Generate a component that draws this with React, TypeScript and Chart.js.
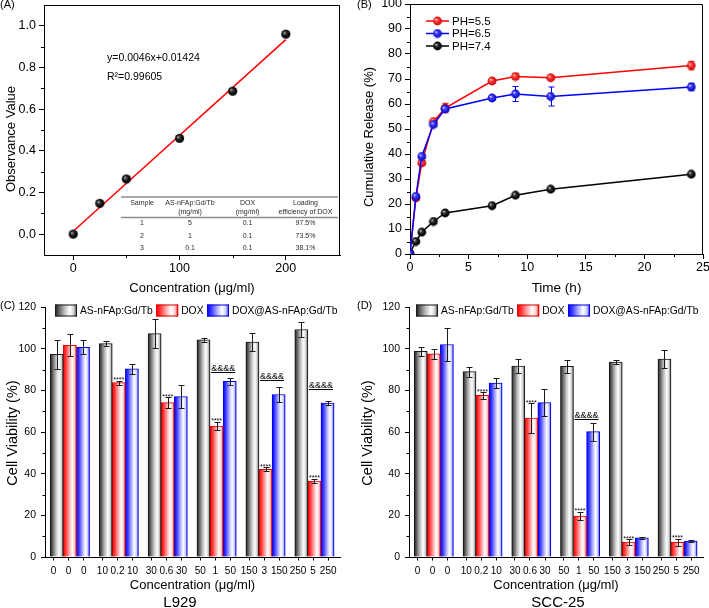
import React, { useEffect, useRef } from 'react';
import { Chart, registerables } from 'chart.js';

Chart.register(...registerables);

const FONT = "'Liberation Sans', Arial, Helvetica, sans-serif";
Chart.defaults.font.family = FONT;
Chart.defaults.color = '#000';

// ---------------- Panel A : calibration ----------------
const calibConc = [0, 25, 50, 100, 150, 200];
const calibAbs = [0.0, 0.148, 0.265, 0.46, 0.686, 0.96];
const fitLineX = [0, 200];
const fitLineY = [0.014, 0.934];
const fitEquation = 'y=0.0046x+0.01424';
const fitR2 = 'R²=0.99605';
const aXTicks = [0, 100, 200];
const aXTickLabels = ['0', '100', '200'];
const aXMinor = [50, 150];
const aYTicks = [0, 0.2, 0.4, 0.6, 0.8, 1.0];
const aYTickLabels = ['0.0', '0.2', '0.4', '0.6', '0.8', '1.0'];
const aYMinor = [0.1, 0.3, 0.5, 0.7, 0.9];
const tableHeader = [['Sample'], ['AS-nFAp:Gd/Tb', '(mg/ml)'], ['DOX', '(mg/ml)'], ['Loading', 'efficiency of DOX']];
const tableRows = [
  ['1', '5', '0.1', '97.5%'],
  ['2', '1', '0.1', '73.5%'],
  ['3', '0.1', '0.1', '38.1%'],
];

// ---------------- Panel B : release ----------------
const releaseTime = [0, 0.5, 1, 2, 3, 7, 9, 12, 24];
const releasePH55 = [0, 22.4, 36.4, 53, 58.4, 69.2, 71, 70.5, 75.4];
const releasePH55Err = [0, 0.8, 0.8, 0.8, 1.9, 0.8, 1.2, 0.8, 1.7];
const releasePH65 = [0, 23, 39, 51.8, 58, 62.4, 64, 63, 66.8];
const releasePH65Err = [0, 0.8, 0.8, 0.8, 1, 0.8, 3, 3.8, 1.5];
const releasePH74 = [0.4, 5, 8.7, 13, 16.4, 19.3, 23.5, 25.9, 31.9];
const releasePH74Err = [0, 0.5, 0.5, 0.5, 0.5, 0.6, 0.6, 0.6, 0.6];
const phLabels = ['PH=5.5', 'PH=6.5', 'PH=7.4'];
const bXTicks = [0, 5, 10, 15, 20, 25];
const bXTickLabels = ['0', '5', '10', '15', '20', '25'];
const bXMinor = [2.5, 7.5, 12.5, 17.5, 22.5];
const bYTicks = [0, 10, 20, 30, 40, 50, 60, 70, 80, 90, 100];
const bYTickLabels = ['0', '10', '20', '30', '40', '50', '60', '70', '80', '90', '100'];
const bYMinor = [5, 15, 25, 35, 45, 55, 65, 75, 85, 95];

// ---------------- Panels C / D : cell viability ----------------
const barNames = ['AS-nFAp:Gd/Tb', 'DOX', 'DOX@AS-nFAp:Gd/Tb'];
const asConc = ['0', '10', '30', '50', '150', '250'];
const doxConc = ['0', '0.2', '0.6', '1', '3', '5'];
const comboConc = ['0', '10', '30', '50', '150', '250'];
const vYTicks = [0, 20, 40, 60, 80, 100, 120];
const vYTickLabels = ['0', '20', '40', '60', '80', '100', '120'];
const vYMinor = [10, 30, 50, 70, 90, 110];

const asL929 = [97.3, 102.4, 107.2, 104.2, 103.2, 109.2];
const asL929Err = [7, 1.2, 7, 1, 4.3, 3.7];
const doxL929 = [101.6, 83.7, 74.1, 62.9, 42.1, 36.5];
const doxL929Err = [5.3, 1, 2.7, 2, 1, 1];
const comboL929 = [100.7, 90.3, 77, 84.3, 78, 73.9];
const comboL929Err = [3.5, 2.5, 5.5, 1.8, 3.6, 0.8];
const starsL929 = [false, true, true, true, true, true];
const ampL929 = [null, null, null, 88.8, 84.8, 80.4];

const asSCC = [98.7, 89, 91.7, 91.5, 93.6, 95];
const asSCCErr = [2, 2.4, 3.5, 3.2, 1.1, 4.2];
const doxSCC = [97.5, 77.6, 66.7, 19.7, 7.2, 7];
const doxSCCErr = [2.5, 1.6, 7, 2, 1.3, 1.8];
const comboSCC = [102, 83.5, 74.1, 60.2, 9.2, 7.7];
const comboSCCErr = [8, 2.4, 6.5, 4.3, 0.5, 0.6];
const starsSCC = [false, true, true, true, true, true];
const ampSCC = [null, null, null, 66.4, null, null];

// ---------------- layout / style constants ----------------
const GROUP_STRIDE = 3.73;
const LABEL_SPREAD = 1.15;
const LABEL_SHIFT = -0.1;
const barX = (g: number, b: number) => g * GROUP_STRIDE + b;
const labelX = (g: number, b: number) => barX(g, 1) + (b - 1) * LABEL_SPREAD + LABEL_SHIFT;

const BAR_STOPS: [number, string][][] = [
  [[0, '#141414'], [0.12, '#4a4a4a'], [0.45, '#c4c4c4'], [0.68, '#ffffff'], [0.86, '#cfcfcf'], [1, '#333333']],
  [[0, '#ff0000'], [0.18, '#ff3535'], [0.48, '#ffb4b4'], [0.68, '#ffffff'], [0.86, '#ffcccc'], [1, '#ff1a1a']],
  [[0, '#0000ff'], [0.18, '#3535ff'], [0.48, '#b4b4ff'], [0.68, '#ffffff'], [0.86, '#ccccff'], [1, '#1a1aff']],
];
const BAR_FLAT = ['#888888', '#ff8080', '#8080ff'];
const BAR_BORDER = ['#1a1a1a', '#e00000', '#0000e0'];

function barGradient(ctx: CanvasRenderingContext2D, x0: number, x1: number, kind: number) {
  if (!isFinite(x0) || !isFinite(x1) || x1 <= x0) return BAR_FLAT[kind];
  const g = ctx.createLinearGradient(x0, 0, x1, 0);
  BAR_STOPS[kind].forEach(([o, c]) => g.addColorStop(o, c));
  return g;
}

function makeSphere(stops: [number, string][], r: number) {
  const size = Math.ceil(r * 2) + 1;
  const cv = document.createElement('canvas');
  cv.width = size;
  cv.height = size;
  const g = cv.getContext('2d')!;
  const c = size / 2;
  const grad = g.createRadialGradient(c - r * 0.35, c - r * 0.35, 0, c, c, r);
  stops.forEach(([o, col]) => grad.addColorStop(o, col));
  g.fillStyle = grad;
  g.beginPath();
  g.arc(c, c, r, 0, Math.PI * 2);
  g.fill();
  return cv;
}

const SPHERE_BLACK: [number, string][] = [[0, '#e8e8e8'], [0.25, '#555555'], [0.6, '#111111'], [1, '#000000']];
const SPHERE_RED: [number, string][] = [[0, '#ffffff'], [0.3, '#ff4a4a'], [1, '#cc0000']];
const SPHERE_BLUE: [number, string][] = [[0, '#ffffff'], [0.3, '#4a4aff'], [1, '#0000c0']];

function linAxis(o: {
  min: number; max: number; ticks: number[]; labels: string[]; size: number; horizontal: boolean;
  title?: string; titleSize?: number; titlePad?: number; tickSize: number; tickPad: number; tickLen: number;
}) {
  return {
    type: 'linear',
    min: o.min,
    max: o.max,
    offset: false,
    afterBuildTicks: (s: any) => {
      s.ticks = o.ticks.map((v) => ({ value: v }));
    },
    afterFit: (s: any) => {
      if (o.horizontal) s.height = o.size;
      else s.width = o.size;
      s.paddingLeft = 0;
      s.paddingRight = 0;
      s.paddingTop = 0;
      s.paddingBottom = 0;
    },
    grid: {
      display: true, drawOnChartArea: false, drawTicks: true, offset: false,
      tickLength: o.tickLen, color: '#000', tickColor: '#000', lineWidth: 1,
    },
    border: { display: true, color: '#000', width: 1 },
    ticks: {
      autoSkip: false, maxRotation: 0, minRotation: 0, padding: o.tickPad, color: '#000',
      font: { family: FONT, size: o.tickSize },
      callback: (_v: any, i: number) => o.labels[i],
    },
    title: {
      display: !!o.title,
      text: o.title || '',
      color: '#000',
      font: { family: FONT, size: o.titleSize || 13 },
      padding: { top: 0, bottom: o.titlePad || 0 },
    },
  };
}

function commonOptions(padding: any) {
  return {
    responsive: false,
    animation: false,
    events: [],
    layout: { padding, autoPadding: false },
    plugins: { legend: { display: false }, tooltip: { enabled: false }, title: { display: false } },
  };
}

function drawMinor(ctx: CanvasRenderingContext2D, chart: any, axis: 'x' | 'y', values: number[], len: number) {
  const s = chart.scales[axis];
  const a = chart.chartArea;
  ctx.save();
  ctx.strokeStyle = '#000';
  ctx.lineWidth = 1;
  ctx.beginPath();
  for (const v of values) {
    const p = Math.round(s.getPixelForValue(v)) + 0.5;
    if (axis === 'x') {
      ctx.moveTo(p, a.bottom);
      ctx.lineTo(p, a.bottom + len);
    } else {
      ctx.moveTo(a.left - len, p);
      ctx.lineTo(a.left, p);
    }
  }
  ctx.stroke();
  ctx.restore();
}

function drawBoxTopRight(ctx: CanvasRenderingContext2D, a: any) {
  ctx.save();
  ctx.strokeStyle = '#000';
  ctx.lineWidth = 1;
  const t = Math.round(a.top) + 0.5;
  const r = Math.round(a.right) - 0.5;
  ctx.beginPath();
  ctx.moveTo(a.left, t);
  ctx.lineTo(r, t);
  ctx.lineTo(r, a.bottom);
  ctx.stroke();
  ctx.restore();
}

function text(ctx: CanvasRenderingContext2D, s: string, x: number, y: number, size: number,
  align: CanvasTextAlign = 'left', baseline: CanvasTextBaseline = 'middle', color = '#000') {
  ctx.save();
  ctx.font = `${size}px ${FONT}`;
  ctx.fillStyle = color;
  ctx.textAlign = align;
  ctx.textBaseline = baseline;
  ctx.fillText(s, x, y);
  ctx.restore();
}

function vText(ctx: CanvasRenderingContext2D, s: string, x: number, y: number, size: number) {
  ctx.save();
  ctx.translate(x, y);
  ctx.rotate(-Math.PI / 2);
  ctx.font = `${size}px ${FONT}`;
  ctx.fillStyle = '#000';
  ctx.textAlign = 'center';
  ctx.textBaseline = 'middle';
  ctx.fillText(s, 0, 0);
  ctx.restore();
}

// ---------------- Panel A ----------------
function buildA(canvas: HTMLCanvasElement) {
  const sphere = makeSphere(SPHERE_BLACK, 4.6);
  const decor = {
    id: 'decorA',
    afterDraw(chart: any) {
      const ctx: CanvasRenderingContext2D = chart.ctx;
      const a = chart.chartArea;
      drawBoxTopRight(ctx, a);
      drawMinor(ctx, chart, 'x', aXMinor, 3);
      drawMinor(ctx, chart, 'y', aYMinor, 3);
      vText(ctx, 'Observance Value', 11.3, 139, 13);
      text(ctx, fitEquation, 107, 58, 10.5);
      text(ctx, fitR2, 107, 77.5, 10.5);
      ctx.save();
      ctx.strokeStyle = '#8c8c8c';
      ctx.lineWidth = 1.3;
      ctx.beginPath();
      ctx.moveTo(121, 197);
      ctx.lineTo(338, 197);
      ctx.moveTo(121, 217.5);
      ctx.lineTo(338, 217.5);
      ctx.stroke();
      ctx.restore();
      const colX = [142, 190, 247.5, 305.5];
      tableHeader.forEach((lines, c) => {
        lines.forEach((ln, k) => text(ctx, ln, colX[c], 203.5 + k * 9, 7, 'center', 'middle', '#2a2a2a'));
      });
      const rowY = [223.5, 236, 248.5];
      tableRows.forEach((row, r) => {
        row.forEach((cell, c) => text(ctx, cell, colX[c], rowY[r], 7, 'center', 'middle', '#2a2a2a'));
      });
      text(ctx, '(A)', 0, 5, 11);
    },
  };
  return new Chart(canvas, {
    type: 'scatter',
    data: {
      datasets: [
        {
          type: 'line',
          data: fitLineX.map((x, i) => ({ x, y: fitLineY[i] })),
          borderColor: '#ff0000',
          borderWidth: 1.5,
          pointRadius: 0,
          showLine: true,
          fill: false,
          order: 2,
        } as any,
        {
          type: 'scatter',
          data: calibConc.map((x, i) => ({ x, y: calibAbs[i] })),
          pointStyle: sphere,
          pointRadius: 4.6,
          order: 1,
        } as any,
      ],
    },
    options: {
      ...commonOptions({ left: 0, top: 5, right: 15, bottom: 0 }),
      scales: {
        x: linAxis({
          min: -27.5, max: 251, ticks: aXTicks, labels: aXTickLabels, size: 45, horizontal: true,
          title: 'Concentration (μg/ml)', titleSize: 13, titlePad: 3.7, tickSize: 12.5, tickPad: 1.5, tickLen: 5,
        }),
        y: linAxis({
          min: -0.1, max: 1.1, ticks: aYTicks, labels: aYTickLabels, size: 44, horizontal: false,
          tickSize: 12.5, tickPad: 3, tickLen: 5,
        }),
      },
    } as any,
    plugins: [decor],
  });
}

// ---------------- Panel B ----------------
function buildB(canvas: HTMLCanvasElement) {
  const spheres = [makeSphere(SPHERE_RED, 4.4), makeSphere(SPHERE_BLUE, 4.4), makeSphere(SPHERE_BLACK, 4.4)];
  const colors = ['#ff0000', '#0000ff', '#000000'];
  const values = [releasePH55, releasePH65, releasePH74];
  const errors = [releasePH55Err, releasePH65Err, releasePH74Err];
  const decor = {
    id: 'decorB',
    beforeDatasetsDraw(chart: any) {
      const ctx: CanvasRenderingContext2D = chart.ctx;
      const xs = chart.scales.x;
      const ys = chart.scales.y;
      ctx.save();
      ctx.lineWidth = 1;
      values.forEach((vals, s) => {
        ctx.strokeStyle = colors[s];
        vals.forEach((v, i) => {
          const e = errors[s][i];
          if (!e) return;
          const x = Math.round(xs.getPixelForValue(releaseTime[i])) + 0.5;
          const y1 = ys.getPixelForValue(v + e);
          const y0 = ys.getPixelForValue(v - e);
          ctx.beginPath();
          ctx.moveTo(x, y1);
          ctx.lineTo(x, y0);
          ctx.moveTo(x - 3, y1);
          ctx.lineTo(x + 3, y1);
          ctx.moveTo(x - 3, y0);
          ctx.lineTo(x + 3, y0);
          ctx.stroke();
        });
      });
      ctx.restore();
    },
    afterDraw(chart: any) {
      const ctx: CanvasRenderingContext2D = chart.ctx;
      const a = chart.chartArea;
      drawBoxTopRight(ctx, a);
      drawMinor(ctx, chart, 'x', bXMinor, 3);
      drawMinor(ctx, chart, 'y', bYMinor, 3);
      vText(ctx, 'Cumulative Release (%)', 14, 137, 13);
      const rowY = [21, 33.5, 46];
      phLabels.forEach((lab, s) => {
        const y = rowY[s];
        ctx.save();
        ctx.strokeStyle = colors[s];
        ctx.lineWidth = 1.5;
        ctx.beginPath();
        ctx.moveTo(71, y);
        ctx.lineTo(94, y);
        ctx.stroke();
        const sp = spheres[s];
        ctx.drawImage(sp, 82.5 - sp.width / 2, y - sp.height / 2);
        ctx.restore();
        text(ctx, lab, 97, y + 0.5, 11.5);
      });
      text(ctx, '(B)', 2, 5, 11);
    },
  };
  const order = [2, 1, 3];
  return new Chart(canvas, {
    type: 'line',
    data: {
      datasets: values.map((vals, s) => ({
        label: phLabels[s],
        data: vals.map((v, i) => ({ x: releaseTime[i], y: v })),
        borderColor: colors[s],
        borderWidth: 1.5,
        pointStyle: spheres[s],
        pointRadius: 4.4,
        fill: false,
        tension: 0,
        order: order[s],
      })) as any,
    },
    options: {
      ...commonOptions({ left: 0, top: 4, right: 6, bottom: 0 }),
      scales: {
        x: linAxis({
          min: 0, max: 25, ticks: bXTicks, labels: bXTickLabels, size: 46, horizontal: true,
          title: 'Time (h)', titleSize: 13.5, titlePad: 3.6, tickSize: 12.5, tickPad: 1, tickLen: 5,
        }),
        y: linAxis({
          min: 0, max: 100, ticks: bYTicks, labels: bYTickLabels, size: 55, horizontal: false,
          tickSize: 12.5, tickPad: 3, tickLen: 5,
        }),
      },
    } as any,
    plugins: [decor],
  });
}

// ---------------- Panels C / D ----------------
interface BarPanel {
  values: number[][];
  errors: number[][];
  stars: boolean[];
  amp: (number | null)[];
  cellLine: string;
  cellLineX: number;
  tag: string;
  tagX: number;
  left: number;
  padRight: number;
  legendX: number;
}

function buildBars(canvas: HTMLCanvasElement, p: BarPanel) {
  const concLabels = [asConc, doxConc, comboConc];
  const tickPos: number[] = [];
  const tickLab: string[] = [];
  for (let g = 0; g < asConc.length; g++) {
    for (let b = 0; b < 3; b++) {
      tickPos.push(labelX(g, b));
      tickLab.push(concLabels[b][g]);
    }
  }
  const datasets = p.values.map((vals, b) => ({
    type: 'bar',
    label: barNames[b],
    data: vals.map((v, g) => ({ x: barX(g, b), y: v })),
    backgroundColor: (c: any) => {
      try {
        if (c.type !== 'data' || !c.raw || !c.chart.chartArea) return BAR_FLAT[b];
        const s = c.chart.scales && c.chart.scales.x;
        if (!s) return BAR_FLAT[b];
        const px = s.getPixelForValue(c.raw.x);
        const w = Math.abs(s.getPixelForValue(1) - s.getPixelForValue(0));
        return barGradient(c.chart.ctx, px - w / 2, px + w / 2, b);
      } catch (e) {
        return BAR_FLAT[b];
      }
    },
    borderColor: BAR_BORDER[b],
    borderWidth: 1,
    borderSkipped: 'bottom',
    grouped: false,
    barPercentage: 1,
    categoryPercentage: 1,
  }));
  const decor = {
    id: 'decorBars',
    afterDatasetsDraw(chart: any) {
      const ctx: CanvasRenderingContext2D = chart.ctx;
      const xs = chart.scales.x;
      const ys = chart.scales.y;
      ctx.save();
      ctx.strokeStyle = '#1a1a1a';
      ctx.lineWidth = 1;
      p.values.forEach((vals, b) => {
        vals.forEach((v, g) => {
          const e = p.errors[b][g];
          const x = Math.round(xs.getPixelForValue(barX(g, b))) + 0.5;
          const y1 = Math.round(ys.getPixelForValue(v + e)) + 0.5;
          const y0 = Math.round(ys.getPixelForValue(v - e)) + 0.5;
          ctx.beginPath();
          ctx.moveTo(x, y1);
          ctx.lineTo(x, y0);
          ctx.moveTo(x - 3, y1);
          ctx.lineTo(x + 3, y1);
          ctx.moveTo(x - 3, y0);
          ctx.lineTo(x + 3, y0);
          ctx.stroke();
        });
      });
      ctx.fillStyle = '#000';
      ctx.textAlign = 'center';
      ctx.textBaseline = 'alphabetic';
      ctx.font = `7px ${FONT}`;
      p.stars.forEach((st, g) => {
        if (!st) return;
        const top = p.values[1][g] + p.errors[1][g];
        ctx.fillText('****', xs.getPixelForValue(barX(g, 1)), ys.getPixelForValue(top) + 1.5);
      });
      ctx.font = `9px ${FONT}`;
      ctx.strokeStyle = '#000';
      p.amp.forEach((lv, g) => {
        if (lv == null) return;
        const cx = (xs.getPixelForValue(barX(g, 1)) + xs.getPixelForValue(barX(g, 2))) / 2;
        const y = Math.round(ys.getPixelForValue(lv)) + 0.5;
        const w = ctx.measureText('&&&&').width;
        ctx.fillText('&&&&', cx, y - 2);
        ctx.beginPath();
        ctx.moveTo(cx - w / 2, y);
        ctx.lineTo(cx + w / 2, y);
        ctx.stroke();
      });
      ctx.restore();
    },
    afterDraw(chart: any) {
      const ctx: CanvasRenderingContext2D = chart.ctx;
      drawMinor(ctx, chart, 'y', vYMinor, 2.5);
      vText(ctx, 'Cell Viability (%)', 13.3, 133, 14.5);
      let x = p.legendX;
      const boxW = 22;
      ctx.save();
      ctx.font = `10.3px ${FONT}`;
      barNames.forEach((name, b) => {
        ctx.fillStyle = barGradient(ctx, x, x + boxW, b);
        ctx.fillRect(x, 4.5, boxW, 12);
        ctx.strokeStyle = BAR_BORDER[b];
        ctx.lineWidth = 1;
        ctx.strokeRect(x + 0.5, 5, boxW - 1, 11);
        x += boxW + 3;
        ctx.fillStyle = '#000';
        ctx.textAlign = 'left';
        ctx.textBaseline = 'middle';
        ctx.fillText(name, x, 11);
        x += ctx.measureText(name).width + 3.5;
      });
      ctx.restore();
      text(ctx, p.cellLine, p.cellLineX, 306.5, 15, 'center', 'alphabetic');
      text(ctx, p.tag, p.tagX, 6, 11);
    },
  };
  return new Chart(canvas, {
    type: 'bar',
    data: { datasets: datasets as any },
    options: {
      ...commonOptions({ left: 0, top: 7, right: p.padRight, bottom: 0 }),
      indexAxis: 'x',
      scales: {
        x: linAxis({
          min: -0.9, max: 21.6, ticks: tickPos, labels: tickLab, size: 51, horizontal: true,
          title: 'Concentration (μg/ml)', titleSize: 13, titlePad: 14.7, tickSize: 10, tickPad: 4.5, tickLen: 3.5,
        }),
        y: linAxis({
          min: 0, max: 120, ticks: vYTicks, labels: vYTickLabels, size: p.left, horizontal: false,
          tickSize: 10.5, tickPad: 5, tickLen: 4,
        }),
      },
    } as any,
    plugins: [decor],
  });
}

export default function App() {
  const refA = useRef<HTMLCanvasElement>(null);
  const refB = useRef<HTMLCanvasElement>(null);
  const refC = useRef<HTMLCanvasElement>(null);
  const refD = useRef<HTMLCanvasElement>(null);

  useEffect(() => {
    const charts: Chart[] = [];
    const safe = (f: () => Chart) => {
      try {
        charts.push(f());
      } catch (e) {
        console.error(e);
      }
    };
    safe(() => buildA(refA.current!));
    safe(() => buildB(refB.current!));
    safe(() => buildBars(refC.current!, {
      values: [asL929, doxL929, comboL929],
      errors: [asL929Err, doxL929Err, comboL929Err],
      stars: starsL929,
      amp: ampL929,
      cellLine: 'L929',
      cellLineX: 180,
      tag: '(C)',
      tagX: 0,
      left: 45,
      padRight: 15,
      legendX: 55,
    }));
    safe(() => buildBars(refD.current!, {
      values: [asSCC, doxSCC, comboSCC],
      errors: [asSCCErr, doxSCCErr, comboSCCErr],
      stars: starsSCC,
      amp: ampSCC,
      cellLine: 'SCC-25',
      cellLineX: 203,
      tag: '(D)',
      tagX: 2,
      left: 54,
      padRight: 6,
      legendX: 61,
    }));
    return () => charts.forEach((c) => c.destroy());
  }, []);

  const cv = (left: number, top: number, w: number, h: number) => ({
    position: 'absolute' as const, left, top, width: w, height: h,
  });

  return (
    <div style={{ position: 'absolute', left: 0, top: 0, width: 709, height: 608, background: '#fff', overflow: 'hidden' }}>
      <canvas ref={refA} width={355} height={300} style={cv(0, 0, 355, 300)} />
      <canvas ref={refB} width={354} height={300} style={cv(355, 0, 354, 300)} />
      <canvas ref={refC} width={355} height={308} style={cv(0, 300, 355, 308)} />
      <canvas ref={refD} width={354} height={308} style={cv(355, 300, 354, 308)} />
    </div>
  );
}
